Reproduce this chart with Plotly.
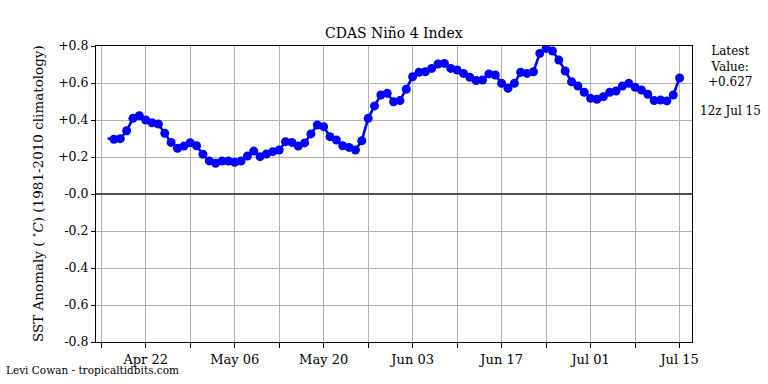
import pandas as pd
import plotly.graph_objects as go

start_date = "2024-04-16"
values = [
    0.300, 0.296, 0.299, 0.342, 0.409, 0.423, 0.400, 0.385, 0.378, 0.328,
    0.279, 0.247, 0.259, 0.277, 0.261, 0.215, 0.179, 0.166, 0.178, 0.178,
    0.171, 0.178, 0.205, 0.232, 0.202, 0.216, 0.229, 0.238, 0.283, 0.279,
    0.259, 0.276, 0.325, 0.373, 0.364, 0.310, 0.292, 0.261, 0.252, 0.238,
    0.288, 0.409, 0.476, 0.535, 0.544, 0.498, 0.505, 0.566, 0.634, 0.658,
    0.661, 0.679, 0.703, 0.706, 0.679, 0.670, 0.652, 0.631, 0.613, 0.616,
    0.649, 0.643, 0.598, 0.571, 0.598, 0.658, 0.652, 0.661, 0.760, 0.787,
    0.773, 0.724, 0.665, 0.607, 0.584, 0.550, 0.517, 0.512, 0.526, 0.550,
    0.557, 0.584, 0.598, 0.577, 0.562, 0.539, 0.505, 0.508, 0.503, 0.535,
    0.627,
]
ytick_vals = [0.8, 0.6, 0.4, 0.2, 0.0, -0.2, -0.4, -0.6, -0.8]
ytick_text = ["+0.8", "+0.6", "+0.4", "+0.2", "-0.0", "-0.2", "-0.4", "-0.6", "-0.8"]
latest_text = "Latest<br>Value:<br>+0.627"
latest_time = "12z Jul 15"
title = "CDAS Niño 4 Index"
ytitle = "SST Anomaly ( <sup>∘</sup><i>C</i>) (1981-2010 climatology)"
credit = "Levi Cowan - tropicaltidbits.com"

dates = pd.date_range(start_date, periods=len(values), freq="D")
FONT = "DejaVu Serif"

sizes = [0] + [9] * (len(values) - 1)

fig = go.Figure()
fig.add_trace(go.Scatter(
    x=dates, y=values, mode="lines+markers", opacity=1,
    line=dict(color="#0000ff", width=2.6),
    marker=dict(color="#0000ff", size=sizes, opacity=1,
                line=dict(width=0)),
    showlegend=False, hoverinfo="skip",
))

fig.update_layout(
    width=768, height=384,
    margin=dict(l=96, r=76, t=46, b=42),
    paper_bgcolor="white", plot_bgcolor="white",
    font=dict(family=FONT, color="black", size=12),
)

fig.update_xaxes(
    range=["2024-04-14 04:20", "2024-07-16 22:50"],
    tick0="2024-04-22", dtick=14 * 86400000,
    tickformat="%b %d",
    ticks="outside", ticklen=5, tickcolor="black",
    tickfont=dict(family=FONT, size=13),
    showgrid=True, gridcolor="#b0b0b0", gridwidth=1,
    showline=True, linecolor="black", linewidth=1, mirror=True,
    minor=dict(tick0="2024-04-15", dtick=7 * 86400000, ticks="outside",
               ticklen=5, tickcolor="black", showgrid=True,
               gridcolor="#b0b0b0", gridwidth=1),
    zeroline=False,
)
fig.update_yaxes(
    range=[-0.8, 0.8],
    tickvals=ytick_vals, ticktext=ytick_text,
    ticks="outside", ticklen=4, tickcolor="black",
    tickfont=dict(family=FONT, size=12.5),
    showgrid=True, gridcolor="#b0b0b0", gridwidth=1,
    showline=True, linecolor="black", linewidth=1, mirror=True,
    zeroline=True, zerolinecolor="#505050", zerolinewidth=1.5,
)

fig.add_annotation(text=title, xref="paper", yref="paper", x=0.5,
                   y=(342 - 33) / 296, xanchor="center", yanchor="middle",
                   showarrow=False, font=dict(family=FONT, size=14))
fig.add_annotation(text=ytitle, xref="paper", yref="paper",
                   x=(37 - 96) / 595.7, y=(342 - 193) / 296, textangle=-90,
                   xanchor="center", yanchor="middle", showarrow=False,
                   font=dict(family=FONT, size=13.5))
fig.add_annotation(text=latest_text, xref="paper", yref="paper",
                   x=(730 - 96) / 595.7, y=(342 - 66.7) / 296,
                   xanchor="center", yanchor="middle", showarrow=False,
                   font=dict(family=FONT, size=12))
fig.add_annotation(text=latest_time, xref="paper", yref="paper",
                   x=(730 - 96) / 595.7, y=(342 - 110.7) / 296,
                   xanchor="center", yanchor="middle", showarrow=False,
                   font=dict(family=FONT, size=12))
fig.add_annotation(text=credit, xref="paper", yref="paper",
                   x=(4 - 96) / 595.7, y=(342 - 370) / 296,
                   xanchor="left", yanchor="middle", showarrow=False,
                   font=dict(family=FONT, size=10.5))

fig.write_html("out.html", config={"displayModeBar": False},
               post_script="document.body.style.margin='0';")
